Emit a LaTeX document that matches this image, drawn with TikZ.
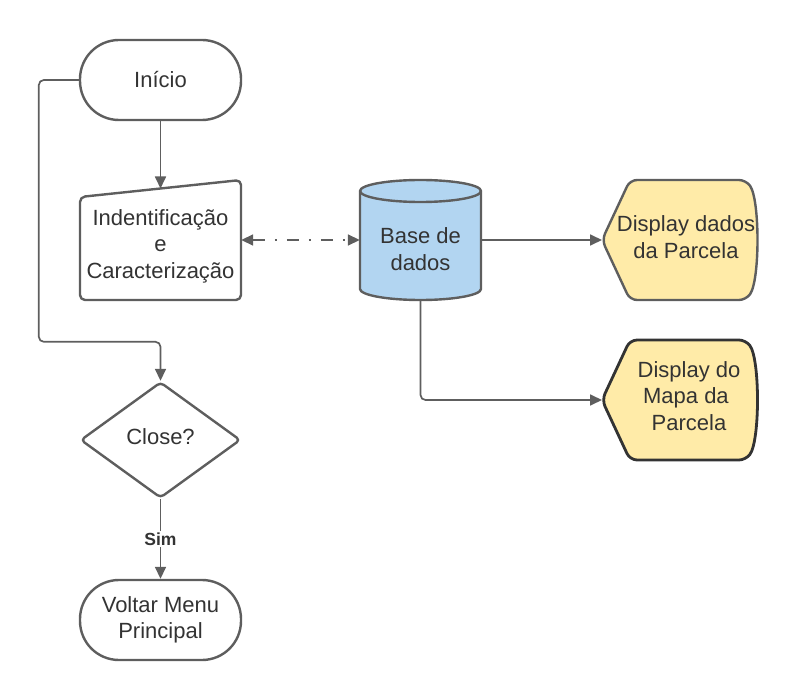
\documentclass[tikz,border=0pt]{standalone}
\usepackage{fontspec}
\setmainfont{Liberation Sans}
\usetikzlibrary{arrows.meta,shapes.geometric,calc}
\definecolor{ln}{HTML}{5E5E5E}
\definecolor{txt}{HTML}{333333}
\definecolor{dbblue}{HTML}{B2D5F1}
\definecolor{dispy}{HTML}{FFEBA8}
\definecolor{dark}{HTML}{333333}
\begin{document}
\begin{tikzpicture}[x=1pt,y=-1pt,
  shp/.style={draw=ln, line width=2.4pt, line join=round},
  lbl/.style={text=txt, font=\fontsize{22}{26.5}\selectfont, align=center, inner sep=0pt},
  term/.style={shp, rounded corners=39pt, minimum width=161pt, minimum height=80pt, lbl},
  conn/.style={draw=ln, line width=1.7pt, -{Triangle[length=12pt,width=11pt]}},
  dashdot/.style={draw=ln, line width=1.7pt, dash pattern=on 12pt off 10pt on 2pt off 10pt,
     {Triangle[length=12pt,width=11pt]}-{Triangle[length=12pt,width=11pt]}}
]
\useasboundingbox (0,0) rectangle (802,700);

% Inicio
\node[term] (start) at (160.5,80) {Início};

% Manual input
\draw[shp, fill=white, rounded corners=5pt] (80,197) -- (241,180) -- (241,300) -- (80,300) -- cycle;
\node[lbl, minimum width=161pt, minimum height=120pt] (input) at (160.5,240) {};
\node[lbl] (inputtxt) at (160.5,246) {Indentificação\\e\\Caracterização};
\coordinate (inTop) at (160.5,188.5);

% Database cylinder
\filldraw[shp, fill=dbblue] (360,191) -- (360,289)
   arc[start angle=180,end angle=360,x radius=60.5pt,y radius=11pt] -- (481,191)
   arc[start angle=0,end angle=180,x radius=60.5pt,y radius=11pt] -- cycle;
\draw[shp] (360,191) arc[start angle=180,end angle=360,x radius=60.5pt,y radius=11pt];
\node[lbl, minimum width=121pt, minimum height=120pt] (db) at (420.5,240) {};
\node[lbl] (dbtxt) at (420.5,249) {Base de\\dados};

% Display 1
\filldraw[shp, fill=dispy, rounded corners=7pt] (602,240) -- (630,180) -- (746,180)
   .. controls (760,200) and (760,280) .. (746,300) -- (630,300) -- cycle;
\coordinate (d1w) at (602,240);
\node[lbl] (disp1) at (686,237) {Display dados\\da Parcela};

% Display 2
\filldraw[shp, draw=dark, line width=2.8pt, fill=dispy, rounded corners=7pt] (602,400) -- (630,340) -- (746,340)
   .. controls (760,360) and (760,440) .. (746,460) -- (630,460) -- cycle;
\coordinate (d2w) at (602,400);
\node[lbl] (disp2) at (689,396) {Display do\\Mapa da\phantom{t}\\Parcela};

% Decision
\node[shp, diamond, minimum width=160pt, minimum height=116pt, inner sep=0pt, rounded corners=4pt, lbl] (close) at (160.5,440) {};
\node[lbl] (closetxt) at (160.5,437) {Close?};

% Voltar
\node[term] (back) at (160.5,620) {Voltar Menu\\Principal};

% Connectors
\draw[conn] (start.south) -- (inTop);
\draw[conn, rounded corners=5pt] (start.west) -- ++(-40,0) |- ($(close.north)+(0,-39)$) -- (close.north);
\draw[dashdot] (input.east) -- (db.west);
\draw[conn] (db.east) -- (d1w);
\draw[conn, rounded corners=5pt] (db.south) |- (d2w);
\draw[conn] (close.south) -- node[fill=white, text=txt, inner sep=2pt, font=\bfseries\fontsize{17.5}{20}\selectfont] (sim) {Sim} (back.north);
\end{tikzpicture}
\end{document}
